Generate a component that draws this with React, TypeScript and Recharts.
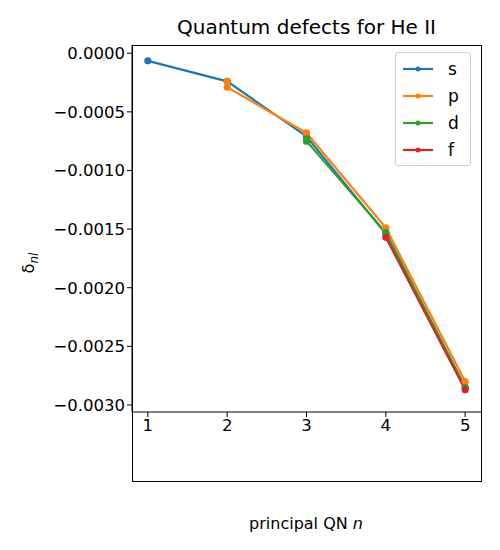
import React from 'react';
import { LineChart, Line, XAxis, YAxis } from 'recharts';

const sSeries = [
  { n: 1, d: -0.000065 },
  { n: 2, d: -0.00024 },
  { n: 3, d: -0.00071 },
  { n: 4, d: -0.00154 },
  { n: 5, d: -0.00285 },
];
const pSeries = [
  { n: 2, d: -0.00024 },
  { n: 2, d: -0.00029 },
  { n: 3, d: -0.00068 },
  { n: 4, d: -0.00149 },
  { n: 5, d: -0.0028 },
];
const dSeries = [
  { n: 3, d: -0.00073 },
  { n: 3, d: -0.00075 },
  { n: 4, d: -0.00153 },
  { n: 5, d: -0.00285 },
];
const fSeries = [
  { n: 4, d: -0.00157 },
  { n: 5, d: -0.00287 },
];
const xTicks = [1, 2, 3, 4, 5];
const yTicks = [0, -0.0005, -0.001, -0.0015, -0.002, -0.0025, -0.003];

const series = [
  { name: 's', data: sSeries, color: '#1f77b4' },
  { name: 'p', data: pSeries, color: '#ff7f0e' },
  { name: 'd', data: dSeries, color: '#2ca02c' },
  { name: 'f', data: fSeries, color: '#d62728' },
];

const font = 'DejaVu Sans, sans-serif';
const fmtY = (v: number) => (v < 0 ? '\u2212' : '') + Math.abs(v).toFixed(4);
const tickStyle = { fill: '#000', fontSize: 16.5, fontFamily: font };

export default function App() {
  return (
    <div style={{ margin: -8, position: 'relative', width: 500, height: 550, background: '#fff' }}>
      <div style={{ position: 'absolute', top: 15, left: 132, width: 349, textAlign: 'center', fontFamily: font, fontSize: 20 }}>
        Quantum defects for He II
      </div>
      <LineChart width={500} height={550} margin={{ top: 45, right: 19, bottom: 69, left: 0 }}>
        <XAxis
          type="number"
          dataKey="n"
          domain={[0.8, 5.2]}
          ticks={xTicks}
          allowDuplicatedCategory={false}
          tick={tickStyle}
          tickLine={{ stroke: '#000' }}
          axisLine={{ stroke: '#000' }}
          tickSize={5}
          height={69}
        />
        <YAxis
          type="number"
          dataKey="d"
          width={132}
          domain={[-0.00306, 0.00007]}
          ticks={yTicks}
          tickFormatter={fmtY}
          tick={tickStyle}
          tickLine={{ stroke: '#000' }}
          axisLine={{ stroke: '#000' }}
          tickSize={5}
        />
        {series.map((s) => (
          <Line
            key={s.name}
            data={s.data}
            dataKey="d"
            name={s.name}
            stroke={s.color}
            strokeWidth={2.2}
            dot={{ r: 2.5, fill: s.color, stroke: s.color }}
            isAnimationActive={false}
          />
        ))}
        <text x={306} y={529} textAnchor="middle" fontFamily={font} fontSize={16}>
          principal QN <tspan fontStyle="italic">n</tspan>
        </text>
        <text x={34} y={263} transform="rotate(-90 34 263)" textAnchor="middle" fontFamily={font} fontSize={16}>
          δ<tspan fontSize={12} dy={4} fontStyle="italic">nl</tspan>
        </text>
      </LineChart>
      <div style={{ position: 'absolute', left: 132, top: 45, width: 348, height: 435, border: '1px solid #000', pointerEvents: 'none' }} />
      <div style={{ position: 'absolute', left: 395, top: 52, width: 76, boxSizing: 'border-box', border: '1px solid #ccc', borderRadius: 3, background: 'rgba(255,255,255,0.8)', padding: '2px 6px', fontFamily: font, fontSize: 17 }}>
        {series.map((s) => (
          <div key={s.name} style={{ display: 'flex', alignItems: 'center', height: 27 }}>
            <svg width={32} height={10} style={{ marginRight: 14 }}>
              <line x1={1} y1={5} x2={31} y2={5} stroke={s.color} strokeWidth={2.2} />
              <circle cx={16} cy={5} r={2.5} fill={s.color} />
            </svg>
            <span>{s.name}</span>
          </div>
        ))}
      </div>
    </div>
  );
}
